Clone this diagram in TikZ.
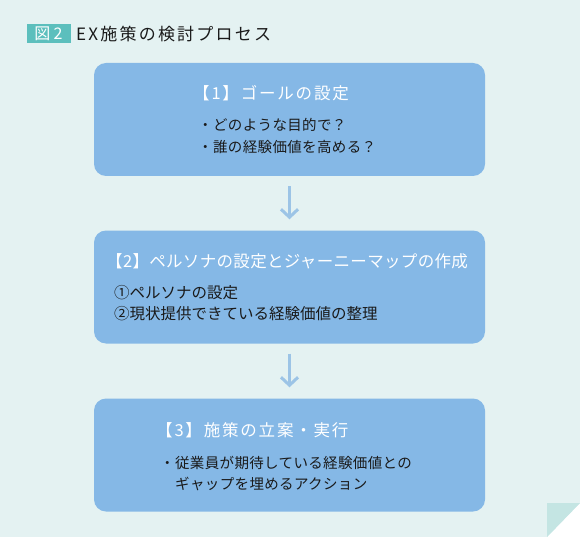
\documentclass[tikz,border=0pt]{standalone}
\usepackage{fontspec}
\setmainfont{Noto Sans CJK JP}
\usetikzlibrary{arrows.meta}
\definecolor{bgc}{HTML}{E4F2F2}
\definecolor{foldc}{HTML}{C4E5E3}
\definecolor{boxc}{HTML}{85B8E6}
\definecolor{tealc}{HTML}{5CBFBD}
\definecolor{arrc}{HTML}{9CC4E6}
\definecolor{txtc}{HTML}{1A1A1A}
\tikzset{
  stepbox/.style={fill=boxc, rounded corners=12pt, minimum width=391pt, minimum height=113pt, inner sep=0pt},
  head/.style={anchor=west, inner sep=0pt, text=white, font=\fontsize{16.5pt}{20pt}\selectfont},
  body/.style={anchor=west, inner sep=0pt, text=txtc, font=\fontsize{14.5pt}{18pt}\selectfont\addfontfeature{LetterSpace=2.5}},
  bodyb/.style={anchor=west, inner sep=0pt, text=txtc, font=\fontsize{15.5pt}{18pt}\selectfont},
  arr/.style={draw=arrc, line width=3pt, -{Straight Barb[length=8pt,width=17pt,line width=3pt]}}
}
\begin{document}
\begin{tikzpicture}[x=1pt,y=-1pt]
\useasboundingbox (0,0) rectangle (580,537);
\fill[bgc] (0,0) -- (580,0) -- (580,503) -- (547,537) -- (0,537) -- cycle;
\fill[foldc] (547,503) -- (580,503) -- (547,537) -- cycle;
% title
\node[fill=tealc, minimum width=44pt, minimum height=19pt, inner sep=0pt, text=white, font=\fontsize{16pt}{18pt}\selectfont\addfontfeature{LetterSpace=20}] (fig) at (48.5,34) {図2};
\node[anchor=west, inner sep=0pt, text=txtc, font=\fontsize{17pt}{20pt}\selectfont\addfontfeature{LetterSpace=13}] (title) at (76,34) {EX施策の検討プロセス};
% boxes
\node[stepbox] (b1) at (289.5,119.5) {};
\node[stepbox] (b2) at (289.5,287) {};
\node[stepbox] (b3) at (289.5,455) {};
% texts
\node[head, font=\fontsize{16.5pt}{20pt}\selectfont\addfontfeature{LetterSpace=11}] (h1) at (193,93) {【1】ゴールの設定};
\node[body] (l11) at (198,125) {・どのような目的で？};
\node[body] (l12) at (198,147) {・誰の経験価値を高める？};
\node[head, font=\fontsize{16.5pt}{20pt}\selectfont\addfontfeature{LetterSpace=2}] (h2) at (106,261) {【2】ペルソナの設定とジャーニーマップの作成};
\node[bodyb] (l21) at (114,293) {①ペルソナの設定};
\node[bodyb] (l22) at (114,314) {②現状提供できている経験価値の整理};
\node[head, font=\fontsize{16.5pt}{20pt}\selectfont\addfontfeature{LetterSpace=11}] (h3) at (156,430) {【3】施策の立案・実行};
\node[body] (l31) at (160,463) {・従業員が期待している経験価値との};
\node[body] (l32) at (175,484) {ギャップを埋めるアクション};
% arrows
\draw[arr, shorten <=10pt, shorten >=11pt] (b1) -- (b2);
\draw[arr, shorten <=10pt, shorten >=11pt] (b2) -- (b3);
\end{tikzpicture}
\end{document}
